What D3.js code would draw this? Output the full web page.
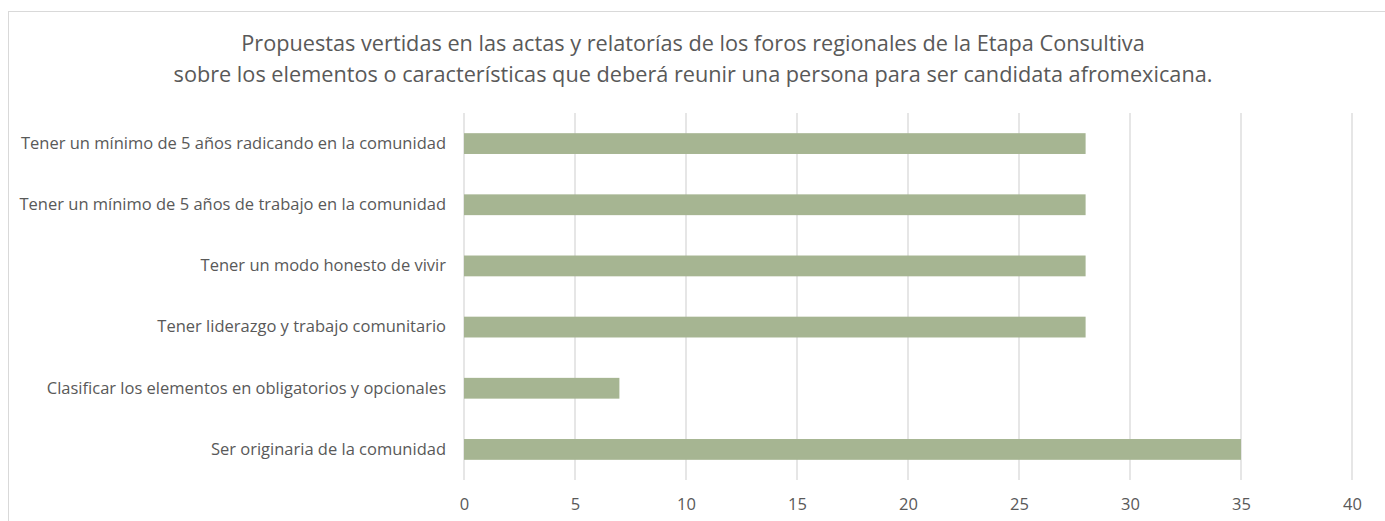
<!DOCTYPE html>
<html>
<head>
<meta charset="utf-8">
<script src="https://cdn.jsdelivr.net/npm/d3@7"></script>
<style>
  body { margin: 0; background: #fff; }
  text { font-family: "Open Sans", sans-serif; fill: #595959; }
</style>
</head>
<body>
<svg id="chart"></svg>
<script>
// categories top to bottom, as in the picture
const categories = [
  "Tener un mínimo de 5 años radicando en la comunidad",
  "Tener un mínimo de 5 años de trabajo en la comunidad",
  "Tener un modo honesto de vivir",
  "Tener liderazgo y trabajo comunitario",
  "Clasificar los elementos en obligatorios y opcionales",
  "Ser originaria de la comunidad"
];
const values = [28, 28, 28, 28, 7, 35];
const xTicks = [0, 5, 10, 15, 20, 25, 30, 35, 40];
const titleLines = [
  "Propuestas vertidas en las actas y relatorías de los foros regionales de la Etapa Consultiva",
  "sobre los elementos o características que deberá reunir una persona para ser candidata afromexicana."
];

const width = 1385, height = 521;
const margin = {top: 113, right: 33, bottom: 41, left: 464};

const svg = d3.select("#chart")
              .attr("width", width)
              .attr("height", height);

// chart frame
svg.append("rect")
   .attr("x", 8.5)
   .attr("y", 11.5)
   .attr("width", width + 10)
   .attr("height", height + 10)
   .attr("fill", "none")
   .attr("stroke", "#d9d9d9");

const x = d3.scaleLinear().domain([0, 40]).range([margin.left, width - margin.right]);
const y = d3.scaleBand().domain(categories).range([margin.top, height - margin.bottom]).paddingInner(0.66).paddingOuter(0.33);

// gridlines
svg.append("g")
   .selectAll("line")
   .data(xTicks)
   .enter().append("line")
   .attr("x1", d => x(d))
   .attr("x2", d => x(d))
   .attr("y1", margin.top)
   .attr("y2", height - margin.bottom)
   .attr("stroke", "#d9d9d9")
   .attr("stroke-width", 1.3);

// bars
svg.selectAll(".bar")
   .data(values)
   .enter().append("rect")
   .attr("class", "bar")
   .attr("x", x(0))
   .attr("y", (d, i) => y(categories[i]))
   .attr("width", d => x(d) - x(0))
   .attr("height", y.bandwidth())
   .attr("fill", "#a6b592");

// x axis labels
const xAxis = svg.append("g")
   .attr("transform", `translate(0,${height - margin.bottom})`)
   .call(d3.axisBottom(x).tickValues(xTicks).tickSize(0).tickPadding(18));
xAxis.select(".domain").remove();
xAxis.selectAll("text").attr("font-size", "16.5px").attr("font-family", "Open Sans, sans-serif").attr("fill", "#595959");

// y axis labels
const yAxis = svg.append("g")
   .attr("transform", `translate(${margin.left},0)`)
   .call(d3.axisLeft(y).tickSize(0).tickPadding(18));
yAxis.select(".domain").remove();
yAxis.selectAll("text").attr("font-size", "16.5px").attr("font-family", "Open Sans, sans-serif").attr("fill", "#595959");

// title
svg.append("g")
   .selectAll("text")
   .data(titleLines)
   .enter().append("text")
   .attr("x", 693)
   .attr("y", (d, i) => 51 + i * 31)
   .attr("text-anchor", "middle")
   .attr("font-size", "21.7px")
   .text(d => d);
</script>
</body>
</html>
